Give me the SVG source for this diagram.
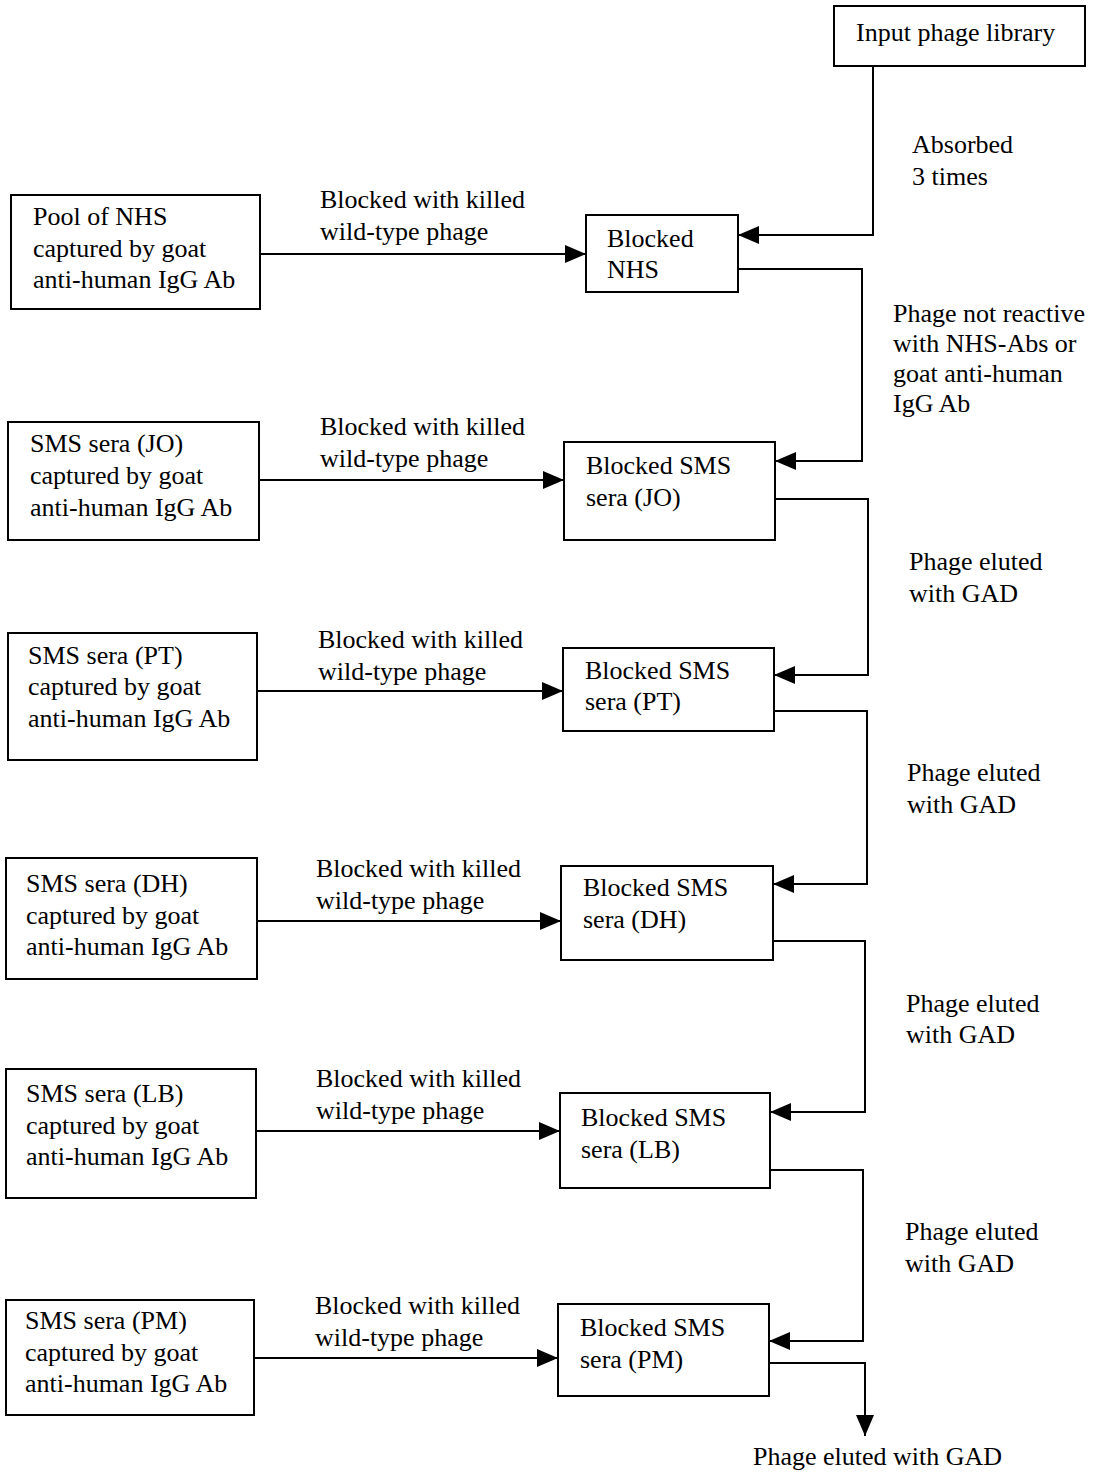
<svg xmlns="http://www.w3.org/2000/svg" width="1098" height="1472" viewBox="0 0 1098 1472">
<style>
text{font-family:"Liberation Serif","Times New Roman",serif;font-size:26px;fill:#000}
.box{fill:#fff;stroke:#000;stroke-width:2}
.c{fill:none;stroke:#000;stroke-width:2}
</style>
<defs>
<marker id="ah" markerUnits="userSpaceOnUse" markerWidth="22" markerHeight="18" refX="21" refY="9" orient="auto">
<path d="M0,0 L21,9 L0,18 z" fill="#000"/>
</marker>
</defs>
<rect width="1098" height="1472" fill="#fff"/>

<g id="input">
<rect class="box" x="834" y="6" width="251" height="60"/>
<text x="856" y="41">Input phage library</text>
</g>

<g id="nhs-pool">
<rect class="box" x="11" y="195" width="249" height="114"/>
<text x="33" y="225">Pool of NHS</text>
<text x="33" y="257">captured by goat</text>
<text x="33" y="288">anti-human IgG Ab</text>
</g>
<g id="nhs-blocked">
<rect class="box" x="586" y="215" width="152" height="77"/>
<text x="607" y="247">Blocked</text>
<text x="607" y="278">NHS</text>
</g>

<g id="jo-sera">
<rect class="box" x="8" y="422" width="251" height="118"/>
<text x="30" y="452">SMS sera (JO)</text>
<text x="30" y="484">captured by goat</text>
<text x="30" y="516">anti-human IgG Ab</text>
</g>
<g id="jo-blocked">
<rect class="box" x="564" y="442" width="211" height="98"/>
<text x="586" y="474">Blocked SMS</text>
<text x="586" y="506">sera (JO)</text>
</g>

<g id="pt-sera">
<rect class="box" x="8" y="633" width="249" height="127"/>
<text x="28" y="664">SMS sera (PT)</text>
<text x="28" y="695">captured by goat</text>
<text x="28" y="727">anti-human IgG Ab</text>
</g>
<g id="pt-blocked">
<rect class="box" x="563" y="648" width="211" height="83"/>
<text x="585" y="679">Blocked SMS</text>
<text x="585" y="710">sera (PT)</text>
</g>

<g id="dh-sera">
<rect class="box" x="6" y="858" width="251" height="121"/>
<text x="26" y="892">SMS sera (DH)</text>
<text x="26" y="924">captured by goat</text>
<text x="26" y="955">anti-human IgG Ab</text>
</g>
<g id="dh-blocked">
<rect class="box" x="561" y="866" width="212" height="94"/>
<text x="583" y="896">Blocked SMS</text>
<text x="583" y="928">sera (DH)</text>
</g>

<g id="lb-sera">
<rect class="box" x="6" y="1069" width="250" height="129"/>
<text x="26" y="1102">SMS sera (LB)</text>
<text x="26" y="1134">captured by goat</text>
<text x="26" y="1165">anti-human IgG Ab</text>
</g>
<g id="lb-blocked">
<rect class="box" x="560" y="1093" width="210" height="95"/>
<text x="581" y="1126">Blocked SMS</text>
<text x="581" y="1158">sera (LB)</text>
</g>

<g id="pm-sera">
<rect class="box" x="6" y="1300" width="248" height="115"/>
<text x="25" y="1329">SMS sera (PM)</text>
<text x="25" y="1361">captured by goat</text>
<text x="25" y="1392">anti-human IgG Ab</text>
</g>
<g id="pm-blocked">
<rect class="box" x="558" y="1304" width="211" height="92"/>
<text x="580" y="1336">Blocked SMS</text>
<text x="580" y="1368">sera (PM)</text>
</g>

<g id="connectors">
<path class="c" d="M873,66 V235 H738" marker-end="url(#ah)"/>
<path class="c" d="M260,254 H586" marker-end="url(#ah)"/>
<path class="c" d="M738,269 H862 V461 H775" marker-end="url(#ah)"/>
<path class="c" d="M259,480 H564" marker-end="url(#ah)"/>
<path class="c" d="M775,499 H868 V675 H774" marker-end="url(#ah)"/>
<path class="c" d="M257,691 H563" marker-end="url(#ah)"/>
<path class="c" d="M774,711 H867 V884 H773" marker-end="url(#ah)"/>
<path class="c" d="M257,921 H561" marker-end="url(#ah)"/>
<path class="c" d="M773,941 H865 V1112 H770" marker-end="url(#ah)"/>
<path class="c" d="M256,1131 H560" marker-end="url(#ah)"/>
<path class="c" d="M770,1170 H863 V1341 H769" marker-end="url(#ah)"/>
<path class="c" d="M254,1358 H558" marker-end="url(#ah)"/>
<path class="c" d="M769,1363 H865 V1436" marker-end="url(#ah)"/>
</g>

<g id="labels">
<text x="912" y="153">Absorbed</text>
<text x="912" y="185">3 times</text>
<text x="320" y="208">Blocked with killed</text>
<text x="320" y="240">wild-type phage</text>
<text x="893" y="322">Phage not reactive</text>
<text x="893" y="352">with NHS-Abs or</text>
<text x="893" y="382">goat anti-human</text>
<text x="893" y="412">IgG Ab</text>
<text x="320" y="435">Blocked with killed</text>
<text x="320" y="467">wild-type phage</text>
<text x="909" y="570">Phage eluted</text>
<text x="909" y="602">with GAD</text>
<text x="318" y="648">Blocked with killed</text>
<text x="318" y="680">wild-type phage</text>
<text x="907" y="781">Phage eluted</text>
<text x="907" y="813">with GAD</text>
<text x="316" y="877">Blocked with killed</text>
<text x="316" y="909">wild-type phage</text>
<text x="906" y="1012">Phage eluted</text>
<text x="906" y="1043">with GAD</text>
<text x="316" y="1087">Blocked with killed</text>
<text x="316" y="1119">wild-type phage</text>
<text x="905" y="1240">Phage eluted</text>
<text x="905" y="1272">with GAD</text>
<text x="315" y="1314">Blocked with killed</text>
<text x="315" y="1346">wild-type phage</text>
<text x="753" y="1465">Phage eluted with GAD</text>
</g>
</svg>
